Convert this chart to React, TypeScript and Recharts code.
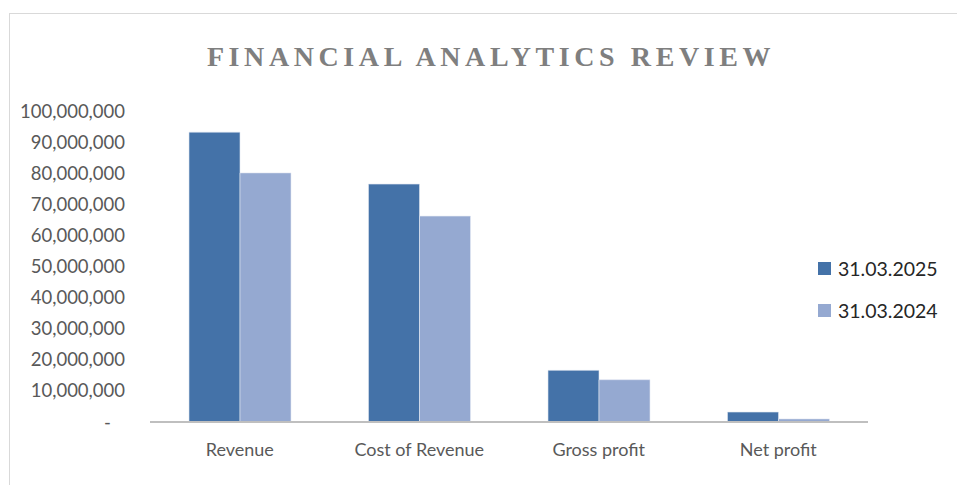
import { BarChart, Bar, XAxis, YAxis } from "recharts";

const categories = ["Revenue", "Cost of Revenue", "Gross profit", "Net profit"];
const fy2025 = [93200000, 76500000, 16600000, 3200000];
const fy2024 = [80100000, 66200000, 13600000, 1000000];
const yTicks = [0, 10000000, 20000000, 30000000, 40000000, 50000000, 60000000, 70000000, 80000000, 90000000, 100000000];
const seriesNames = ["31.03.2025", "31.03.2024"];

const data = categories.map((name, i) => ({ name, a: fy2025[i], b: fy2024[i] }));

const DARK = "#4472A8";
const LIGHT = "#95A9D1";
const FONT = "Lato, 'Open Sans', sans-serif";

function formatTick(v: number) {
  return v === 0 ? "-\u00A0\u00A0\u00A0" : v.toLocaleString("en-US");
}

function LegendBox() {
  const colors = [DARK, LIGHT];
  return (
    <div style={{ fontFamily: FONT }}>
      {seriesNames.map((s, i) => (
        <div key={s} style={{ display: "flex", alignItems: "center", height: 42 }}>
          <span style={{ width: 13, height: 13, background: colors[i], display: "inline-block", marginRight: 7 }} />
          <span style={{ fontSize: 19.5, color: "#262626" }}>{s}</span>
        </div>
      ))}
    </div>
  );
}

export default function App() {
  return (
    <div style={{ position: "absolute", left: 0, top: 0, width: 957, height: 485, overflow: "hidden", background: "#fff" }}>
      <div
        style={{
          position: "absolute",
          left: 9,
          top: 13,
          width: 980,
          height: 500,
          border: "1.5px solid #d9d9d9",
        }}
      />
      <div
        style={{
          position: "absolute",
          left: 0,
          top: 41,
          width: 982,
          textAlign: "center",
          fontFamily: "'Liberation Serif', serif",
          fontWeight: "bold",
          fontSize: 28,
          letterSpacing: 4.6,
          color: "#7f7f7f",
        }}
      >
        FINANCIAL ANALYTICS REVIEW
      </div>
      <div style={{ position: "absolute", left: 0, top: 0 }}>
        <BarChart
          width={957}
          height={485}
          data={data}
          margin={{ top: 111, bottom: 33, left: 20, right: 89 }}
          barGap={0}
          barSize={51}
        >
          <YAxis
            width={130}
            domain={[0, 100000000]}
            ticks={yTicks}
            interval={0}
            axisLine={false}
            tickLine={false}
            tickSize={0}
            tickMargin={25}
            tickFormatter={formatTick}
            tick={{ fontSize: 18.5, fill: "#595959", fontFamily: FONT }}
          />
          <XAxis
            dataKey="name"
            height={30}
            axisLine={{ stroke: "#bfbfbf", strokeWidth: 2 }}
            tickLine={false}
            tickSize={0}
            tickMargin={21}
            tick={{ fontSize: 18, fill: "#595959", fontFamily: FONT }}
          />
          <Bar dataKey="a" name={seriesNames[0]} fill={DARK} stroke="#dfe6f0" strokeWidth={0.6} isAnimationActive={false} />
          <Bar dataKey="b" name={seriesNames[1]} fill={LIGHT} stroke="#e4e9f3" strokeWidth={0.6} isAnimationActive={false} />
        </BarChart>
      </div>
      <div style={{ position: "absolute", left: 818, top: 247 }}>
        <LegendBox />
      </div>
    </div>
  );
}
